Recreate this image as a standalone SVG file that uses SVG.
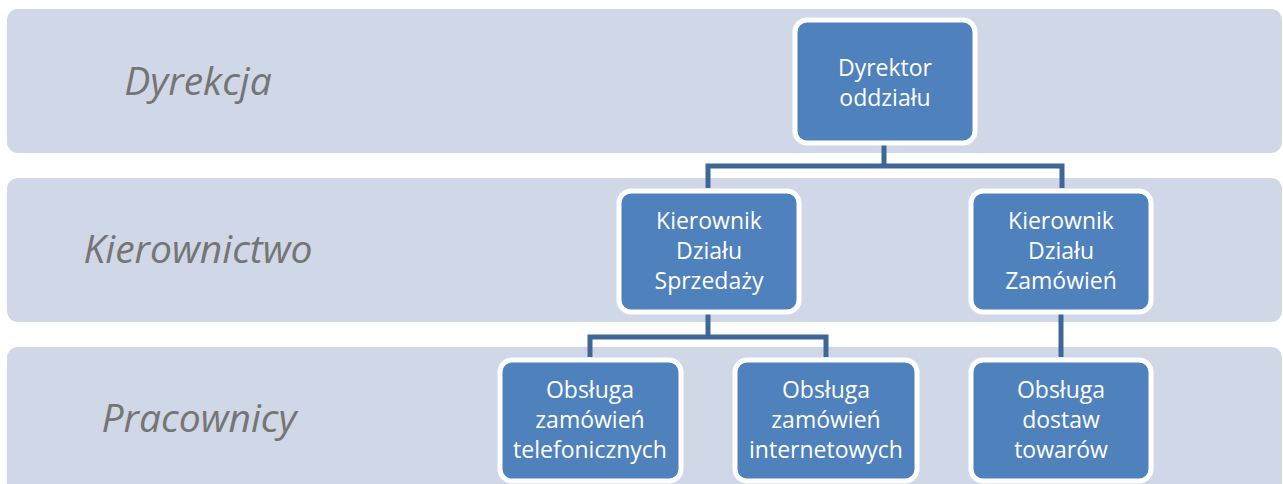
<svg xmlns="http://www.w3.org/2000/svg" width="1283" height="484" viewBox="0 0 1283 484">
<style>
.band{fill:#D0D7E6}
.lbl{font-family:"Open Sans","Liberation Sans",sans-serif;font-style:italic;font-size:39px;fill:#757575;text-anchor:middle}
.box{fill:#4F81BD;stroke:#FFFFFF;stroke-width:5}
.t{font-family:"Open Sans","Liberation Sans",sans-serif;font-size:23px;fill:#FFFFFF;text-anchor:middle}
.conn{fill:none;stroke:#3E6797;stroke-width:5}
</style>
<rect x="0" y="0" width="1283" height="484" fill="#FFFFFF"/>
<g id="bands">
<rect class="band" x="7" y="9" width="1275" height="144" rx="11"/>
<rect class="band" x="7" y="178" width="1275" height="144" rx="11"/>
<rect class="band" x="7" y="347" width="1275" height="150" rx="11"/>
<text class="lbl" x="198" y="95">Dyrekcja</text>
<text class="lbl" x="198" y="263">Kierownictwo</text>
<text class="lbl" x="199" y="432">Pracownicy</text>
</g>
<g id="connectors">
<path class="conn" d="M884 143 V166 M708 188 V166 H1062 V188"/>
<path class="conn" d="M708 314 V337 M590 357 V337 H826 V357"/>
<path class="conn" d="M1061 314 V357"/>
</g>
<g id="n-dyrektor">
<rect class="box" x="795" y="20" width="180" height="123" rx="12"/>
<text class="t" x="885" y="76">Dyrektor</text>
<text class="t" x="885" y="106">oddziału</text>
</g>
<g id="n-sprzedaz">
<rect class="box" x="619" y="191" width="180" height="121" rx="12"/>
<text class="t" x="709" y="229">Kierownik</text>
<text class="t" x="709" y="259">Działu</text>
<text class="t" x="709" y="289">Sprzedaży</text>
</g>
<g id="n-zamowien">
<rect class="box" x="971" y="191" width="180" height="121" rx="12"/>
<text class="t" x="1061" y="229">Kierownik</text>
<text class="t" x="1061" y="259">Działu</text>
<text class="t" x="1061" y="289">Zamówień</text>
</g>
<g id="n-telefon">
<rect class="box" x="500" y="360" width="181" height="121" rx="12"/>
<text class="t" x="590" y="398">Obsługa</text>
<text class="t" x="590" y="428">zamówień</text>
<text class="t" x="590" y="458">telefonicznych</text>
</g>
<g id="n-internet">
<rect class="box" x="735" y="360" width="182" height="121" rx="12"/>
<text class="t" x="826" y="398">Obsługa</text>
<text class="t" x="826" y="428">zamówień</text>
<text class="t" x="826" y="458">internetowych</text>
</g>
<g id="n-dostawy">
<rect class="box" x="971" y="360" width="180" height="121" rx="12"/>
<text class="t" x="1061" y="398">Obsługa</text>
<text class="t" x="1061" y="428">dostaw</text>
<text class="t" x="1061" y="458">towarów</text>
</g>
</svg>
